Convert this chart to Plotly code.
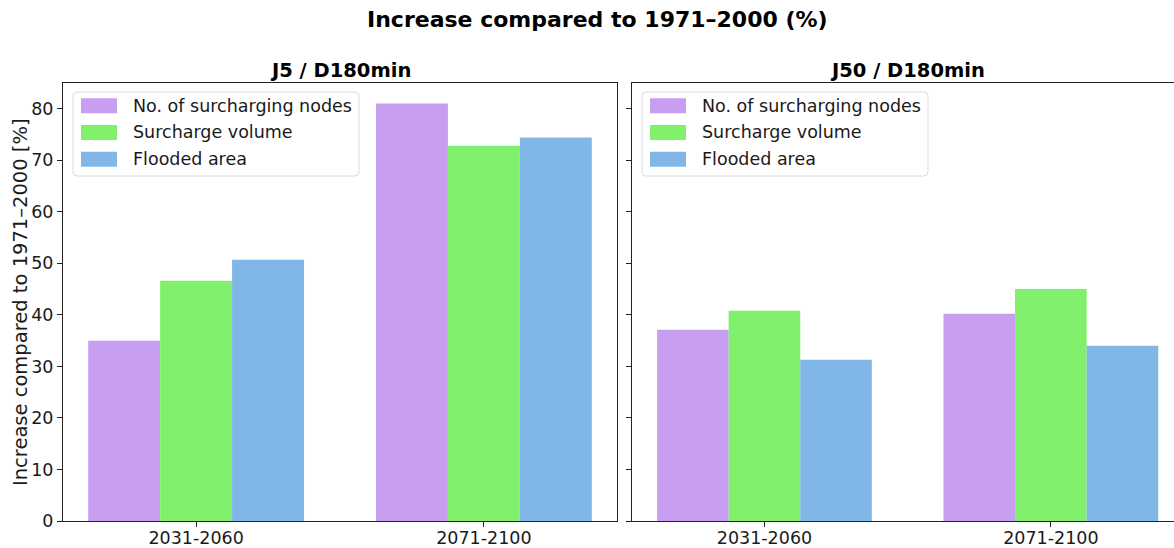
import plotly.graph_objects as go

# ---- data -------------------------------------------------------------
periods = ["2031-2060", "2071-2100"]
series_names = ["No. of surcharging nodes", "Surcharge volume", "Flooded area"]
series_colors = ["#C89EF1", "#80EF6B", "#80B7E6"]

j5_nodes = [35.0, 81.0]
j5_volume = [46.6, 72.8]
j5_area = [50.7, 74.4]

j50_nodes = [37.1, 40.2]
j50_volume = [40.8, 45.0]
j50_area = [31.3, 34.0]

panel_titles = ["J5 / D180min", "J50 / D180min"]
main_title = "Increase compared to 1971–2000 (%)"
y_title = "Increase compared to 1971–2000 [%]"
y_ticks = [0, 10, 20, 30, 40, 50, 60, 70, 80]

# ---- layout geometry (pixels) -----------------------------------------
W, H = 1174, 548
FONT = "DejaVu Sans"
TXT = "#1a1a1a"
plot_top, plot_bottom = 83, 521
left_panel = (63, 617)
right_panel = (632, 1174)


def px(x):
    return x / W


def py(y):
    return 1 - y / H


fig = go.Figure()

panels = [
    ("x", "y", [j5_nodes, j5_volume, j5_area]),
    ("x2", "y2", [j50_nodes, j50_volume, j50_area]),
]
for xa, ya, values in panels:
    for name, color, vals in zip(series_names, series_colors, values):
        fig.add_trace(go.Bar(
            x=periods, y=vals, name=name, xaxis=xa, yaxis=ya,
            marker=dict(color=color, line=dict(width=0)),
            showlegend=False,
        ))

axis_common = dict(
    showline=True, linecolor="#222", linewidth=1.1,
    ticks="outside", ticklen=5, tickwidth=1, tickcolor="#222",
    showgrid=False, zeroline=False,
    tickfont=dict(family=FONT, size=17.5, color=TXT),
    automargin=False,
)

fig.update_layout(
    width=W, height=H,
    margin=dict(l=0, r=0, t=0, b=0),
    paper_bgcolor="white", plot_bgcolor="white",
    barmode="group", bargap=0.25, bargroupgap=0,
    xaxis=dict(axis_common, domain=[px(left_panel[0]), px(left_panel[1])],
               type="category", range=[-0.4625, 1.4625], mirror=True,
               anchor="y", ticklabelstandoff=-4),
    yaxis=dict(axis_common, domain=[py(plot_bottom), py(plot_top)],
               range=[0, 85], tickvals=y_ticks, mirror=True, anchor="x"),
    xaxis2=dict(axis_common, domain=[px(right_panel[0]), 1.0],
                type="category", range=[-0.4625, 1.43], mirror=True,
                anchor="y2", ticklabelstandoff=-4),
    yaxis2=dict(axis_common, domain=[py(plot_bottom), py(plot_top)],
                range=[0, 85], tickvals=y_ticks, showticklabels=False,
                mirror=False, anchor="x2"),
    showlegend=False,
)

annotations = [
    dict(text=f"<b>{main_title}</b>", x=px(597), y=py(20), xref="paper",
         yref="paper", showarrow=False, xanchor="center", yanchor="middle",
         font=dict(family=FONT, size=22, color="black")),
    dict(text=f"<b>{panel_titles[0]}</b>", x=px(340), y=py(70), xref="paper",
         yref="paper", showarrow=False, xanchor="center", yanchor="middle",
         font=dict(family=FONT, size=19.5, color="black")),
    dict(text=f"<b>{panel_titles[1]}</b>", x=px(907), y=py(70), xref="paper",
         yref="paper", showarrow=False, xanchor="center", yanchor="middle",
         font=dict(family=FONT, size=19.5, color="black")),
    dict(text=y_title, x=px(20), y=py((plot_top + plot_bottom) / 2),
         xref="paper", yref="paper", showarrow=False, textangle=-90,
         xanchor="center", yanchor="middle",
         font=dict(family=FONT, size=19.5, color=TXT)),
]

shapes = []
# in-panel legends: rounded frame, colour patches and labels
row_y = [105.7, 132.5, 159.3]
for x0 in (left_panel[0], right_panel[0]):
    bx0, bx1, by0, by1, r = x0 + 10, x0 + 296, 92, 176, 4
    path = (
        f"M{px(bx0 + r)},{py(by0)} L{px(bx1 - r)},{py(by0)} "
        f"Q{px(bx1)},{py(by0)} {px(bx1)},{py(by0 + r)} "
        f"L{px(bx1)},{py(by1 - r)} Q{px(bx1)},{py(by1)} {px(bx1 - r)},{py(by1)} "
        f"L{px(bx0 + r)},{py(by1)} Q{px(bx0)},{py(by1)} {px(bx0)},{py(by1 - r)} "
        f"L{px(bx0)},{py(by0 + r)} Q{px(bx0)},{py(by0)} {px(bx0 + r)},{py(by0)} Z"
    )
    shapes.append(dict(type="path", path=path, xref="paper", yref="paper",
                       line=dict(color="#dcdcdc", width=1),
                       fillcolor="rgba(255,255,255,0.8)"))
    for yc, name, color in zip(row_y, series_names, series_colors):
        shapes.append(dict(type="rect", xref="paper", yref="paper",
                           x0=px(x0 + 18), x1=px(x0 + 54),
                           y0=py(yc + 7.5), y1=py(yc - 7.5),
                           fillcolor=color, line=dict(width=0)))
        annotations.append(dict(text=name, x=px(x0 + 68), y=py(yc),
                                xref="paper", yref="paper", showarrow=False,
                                xanchor="left", yanchor="middle",
                                font=dict(family=FONT, size=17.5, color=TXT)))

fig.update_layout(annotations=annotations, shapes=shapes)
fig.write_html("out.html")
